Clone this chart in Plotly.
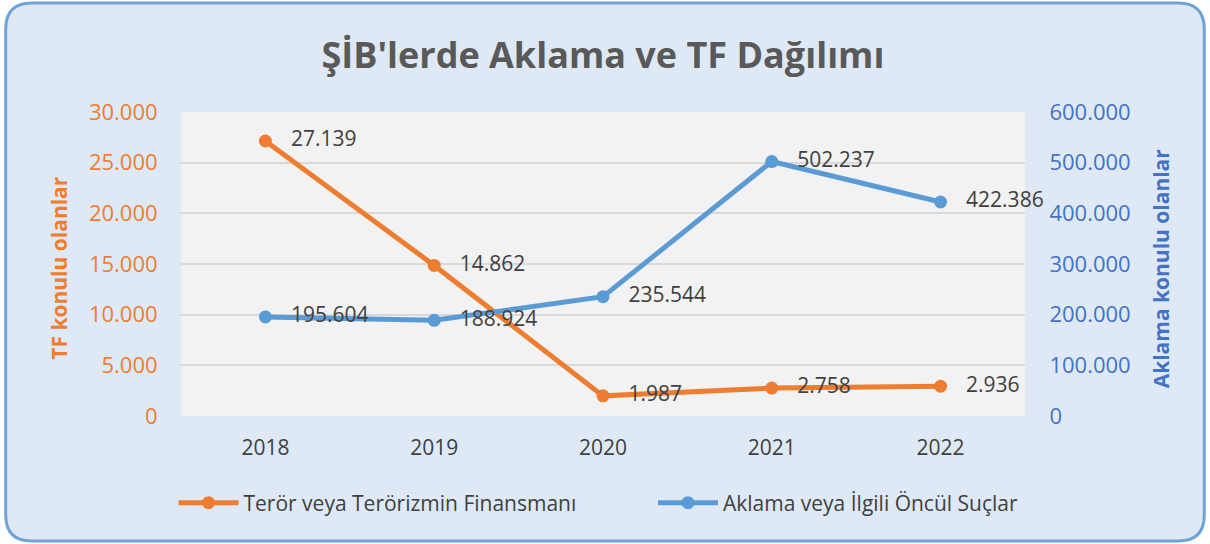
import plotly.graph_objects as go

years = ["2018", "2019", "2020", "2021", "2022"]
tf_values = [27139, 14862, 1987, 2758, 2936]
aklama_values = [195604, 188924, 235544, 502237, 422386]
tf_name = "Terör veya Terörizmin Finansmanı"
aklama_name = "Aklama veya İlgili Öncül Suçlar"
title_text = "ŞİB'lerde Aklama ve TF Dağılımı"
left_title = "TF konulu olanlar"
right_title = "Aklama konulu olanlar"

W, H = 1210, 544
L, R, T, B = 180.5, 184.5, 112, 128
PW, PH = W - L - R, H - T - B

def px(x):
    return (x - L) / PW

def py(y):
    return (H - B - y) / PH

ORANGE = "#ed7d31"
BLUE = "#5b9bd5"
AXBLUE = "#4472c4"
TXT = "#404040"
FONT = "Open Sans"
PAD = "\u00a0\u00a0\u00a0"

fig = go.Figure()
fig.add_trace(go.Scatter(
    x=years, y=tf_values, name=tf_name, mode="lines+markers+text",
    line=dict(color=ORANGE, width=5), marker=dict(size=13, color=ORANGE),
    texttemplate=PAD + "%{y:,}", textposition="middle right", cliponaxis=False,
    textfont=dict(color=TXT, size=21, family=FONT), yaxis="y", legend="legend",
))
fig.add_trace(go.Scatter(
    x=years, y=aklama_values, name=aklama_name, mode="lines+markers+text",
    line=dict(color=BLUE, width=5), marker=dict(size=13, color=BLUE),
    texttemplate=PAD + "%{y:,}", textposition="middle right", cliponaxis=False,
    textfont=dict(color=TXT, size=21, family=FONT), yaxis="y2", legend="legend2",
))

# rounded border of chart area
x0, x1, y0, y1, r = 5, 1205, 3, 541, 26
path = (f"M {px(x0+r)},{py(y0)} L {px(x1-r)},{py(y0)} "
        f"Q {px(x1)},{py(y0)} {px(x1)},{py(y0+r)} "
        f"L {px(x1)},{py(y1-r)} Q {px(x1)},{py(y1)} {px(x1-r)},{py(y1)} "
        f"L {px(x0+r)},{py(y1)} Q {px(x0)},{py(y1)} {px(x0)},{py(y1-r)} "
        f"L {px(x0)},{py(y0+r)} Q {px(x0)},{py(y0)} {px(x0+r)},{py(y0)} Z")
fig.add_shape(type="path", path=path, xref="paper", yref="paper",
              fillcolor="#dee9f5", line=dict(color="#6fa3d8", width=3), layer="below")
fig.add_shape(type="rect", xref="paper", yref="paper", x0=0, x1=1, y0=0, y1=1,
              fillcolor="#f2f2f2", line=dict(width=0), layer="below")

fig.add_annotation(text=left_title, xref="paper", yref="paper", x=px(58), y=py(268),
                   textangle=-90, showarrow=False, xanchor="center", yanchor="middle",
                   font=dict(family=FONT, size=21, color=ORANGE, weight="bold"))
fig.add_annotation(text=right_title, xref="paper", yref="paper", x=px(1162), y=py(268),
                   textangle=-90, showarrow=False, xanchor="center", yanchor="middle",
                   font=dict(family=FONT, size=21, color=AXBLUE, weight="bold"))

legend_style = dict(orientation="h", xanchor="left", yanchor="middle",
                    font=dict(family=FONT, size=21, color=TXT),
                    bgcolor="rgba(0,0,0,0)", itemwidth=60)

fig.update_layout(
    width=W, height=H,
    margin=dict(l=L, r=R, t=T, b=B, autoexpand=False),
    paper_bgcolor="white", plot_bgcolor="rgba(0,0,0,0)",
    separators=",.",
    title=dict(text=title_text, x=0.5, xref="paper", xanchor="center",
               y=1 - 55 / H, yanchor="middle", yref="container",
               font=dict(family=FONT, size=36, color="#595959", weight="bold")),
    xaxis=dict(range=[-0.5, 4.5], type="category", showgrid=False, showline=False,
               zeroline=False, ticks="outside", ticklen=13, tickcolor="rgba(0,0,0,0)",
               tickfont=dict(family=FONT, size=21, color=TXT)),
    yaxis=dict(range=[0, 30000], dtick=5000, tickformat=",", showgrid=True,
               gridcolor="#d9d9d9", gridwidth=1.5, zeroline=False, showline=False,
               ticks="outside", ticklen=18, tickcolor="rgba(0,0,0,0)",
               tickfont=dict(family=FONT, size=22, color=ORANGE)),
    yaxis2=dict(range=[0, 600000], dtick=100000, tickformat=",", overlaying="y",
                side="right", showgrid=False, zeroline=False, showline=False,
                ticks="outside", ticklen=19, tickcolor="rgba(0,0,0,0)",
                tickfont=dict(family=FONT, size=22, color=AXBLUE)),
    legend=dict(x=px(173), y=py(503), **legend_style),
    legend2=dict(x=px(653), y=py(503), **legend_style),
    showlegend=True,
)
fig.write_html("out.html", config={"displayModeBar": False},
               post_script="document.body.style.margin='0px';")
